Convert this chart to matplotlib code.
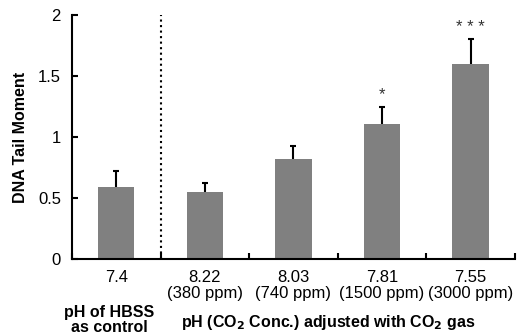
import matplotlib.pyplot as plt

plt.rcParams["font.family"] = ["Liberation Sans", "DejaVu Sans"]

# data
ph_labels = ["7.4", "8.22\n(380 ppm)", "8.03\n(740 ppm)", "7.81\n(1500 ppm)", "7.55\n(3000 ppm)"]
tail_moment = [0.59, 0.55, 0.82, 1.11, 1.60]
err_upper = [0.13, 0.07, 0.11, 0.14, 0.20]
marks = ["", "", "", "*", "* * *"]

fig = plt.figure(figsize=(5.18, 3.34), dpi=100)
ax = fig.add_axes([0.139, 0.2246, 0.855, 0.7304])

x = list(range(len(tail_moment)))
ax.bar(x, tail_moment, width=0.41, color="#808080", zorder=2)
# lower half sits behind the bar, so only the upper whisker shows
ax.errorbar(x, tail_moment, yerr=err_upper, fmt="none",
            ecolor="black", elinewidth=1.5, capsize=2.2, capthick=1.5, zorder=1)

# significance stars
for xi, v, e, m in zip(x, tail_moment, err_upper, marks):
    if m:
        ax.text(xi, v + e + 0.1, m, ha="center", va="center", fontsize=12, color="#333333")

# dotted separator between control and CO2 groups
ax.axvline(0.5, color="black", linestyle=":", linewidth=1.5)

ax.set_xlim(-0.5, len(x) - 0.5)
ax.set_ylim(0, 2)
ax.set_yticks([0, 0.5, 1, 1.5, 2])
ax.set_yticklabels(["0", "0.5", "1", "1.5", "2"])
ax.set_xticks(x)
ax.set_xticklabels(ph_labels, linespacing=1.05)
ax.set_xticks([i - 0.5 for i in range(len(x) + 1)], minor=True)
ax.tick_params(axis="x", which="major", length=0, pad=8, labelsize=12)
ax.tick_params(axis="x", which="minor", direction="in", length=4, width=1.5)
ax.tick_params(axis="y", direction="in", length=4, width=1.5, labelsize=12, pad=8)

for side in ["top", "right"]:
    ax.spines[side].set_visible(False)
for side in ["left", "bottom"]:
    ax.spines[side].set_linewidth(1.5)

ax.set_ylabel("DNA Tail Moment", fontsize=11.5, fontweight="bold", labelpad=7)

ax.text(-0.08, -0.19, "pH of HBSS\nas control", transform=ax.get_xaxis_transform(),
        ha="center", va="top", fontsize=11.5, fontweight="bold", linespacing=1.0)
ax.text(2.39, -0.22, "pH (CO$_\\mathbf{2}$ Conc.) adjusted with CO$_\\mathbf{2}$ gas",
        transform=ax.get_xaxis_transform(), ha="center", va="top",
        fontsize=11.5, fontweight="bold")

fig.savefig("out.png", dpi=100)
